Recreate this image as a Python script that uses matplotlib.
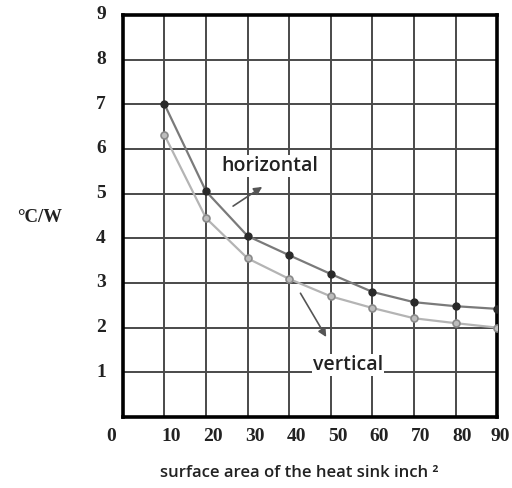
import matplotlib.pyplot as plt
from matplotlib.transforms import offset_copy

# ─── DATA ───────────────────────────────────────────────────────────────────
area = [10, 20, 30, 40, 50, 60, 70, 80, 90]
horizontal = [7.0, 5.05, 4.05, 3.62, 3.2, 2.8, 2.57, 2.48, 2.42]
vertical = [6.31, 4.45, 3.55, 3.09, 2.7, 2.44, 2.21, 2.1, 2.0]
x_ticks = [10, 20, 30, 40, 50, 60, 70, 80, 90]
y_ticks = [1, 2, 3, 4, 5, 6, 7, 8, 9]

fig = plt.figure(figsize=(5.12, 4.88), dpi=100)
ax = fig.add_axes([0.240, 0.1455, 0.731, 0.824])

ax.set_xlim(0, 90)
ax.set_ylim(0, 9)

# grid
for v in x_ticks[:-1]:
    ax.axvline(v, color="#4a4a4a", lw=1.4, zorder=1)
for v in y_ticks[:-1]:
    ax.axhline(v, color="#4a4a4a", lw=1.4, zorder=1)

for s in ax.spines.values():
    s.set_linewidth(2.6)
    s.set_color("black")

# curves
ax.plot(area, horizontal, color="#7a7a7a", lw=1.6, zorder=3,
        marker="o", ms=5, mfc="#2a2a2a", mec="#2a2a2a")
ax.plot(area, vertical, color="#b4b4b4", lw=1.6, zorder=3,
        marker="o", ms=5, mfc="#bdbdbd", mec="#8a8a8a", mew=1.2)

# annotations
ann = dict(ha="center", va="center", fontsize=14, family="Open Sans",
           fontweight="semibold", color="#222222", zorder=5,
           bbox=dict(facecolor="white", edgecolor="none", pad=0.5))
arrow = dict(arrowstyle="-|>", color="#555555", lw=1.2,
             mutation_scale=12, shrinkA=0, shrinkB=0)
ax.annotate("", xy=(33.5, 5.15), xytext=(26.5, 4.72), arrowprops=arrow, zorder=4)
ax.text(35.4, 5.62, "horizontal", **ann)
ax.annotate("", xy=(48.9, 1.79), xytext=(42.7, 2.77), arrowprops=arrow, zorder=4)
ax.text(54.2, 1.16, "vertical", **ann)

# ticks (drawn as text so they can sit off-centre like the original)
ax.set_xticks([])
ax.set_yticks([])
serif = dict(family="Liberation Serif", fontweight="bold", fontsize=14, color="#222222")
tx = offset_copy(ax.get_xaxis_transform(), fig=fig, x=7, y=-11, units="dots")
for v in x_ticks[:-1]:
    ax.text(v, 0, str(v), transform=tx, ha="center", va="top", **serif)
# last label pushed against the right edge
tx_last = offset_copy(ax.get_xaxis_transform(), fig=fig, x=13, y=-11, units="dots")
ax.text(x_ticks[-1], 0, str(x_ticks[-1]), transform=tx_last, ha="right", va="top", **serif)
ax.text(-4.4, 0, "0", transform=tx, ha="center", va="top", **serif)
ty = offset_copy(ax.get_yaxis_transform(), fig=fig, x=-17, y=0, units="dots")
for v in y_ticks:
    ax.text(0, v, str(v), transform=ty, ha="right", va="center", **serif)

fig.text(0.078, 0.555, "°C/W", ha="center", va="center", family="Liberation Serif",
         fontweight="bold", fontsize=13.5, color="#222222")
fig.text(0.585, 0.030, "surface area of the heat sink inch ²", ha="center", va="center",
         family="Open Sans", fontweight="semibold", fontsize=12, color="#222222")

plt.savefig("out.png", dpi=100)
